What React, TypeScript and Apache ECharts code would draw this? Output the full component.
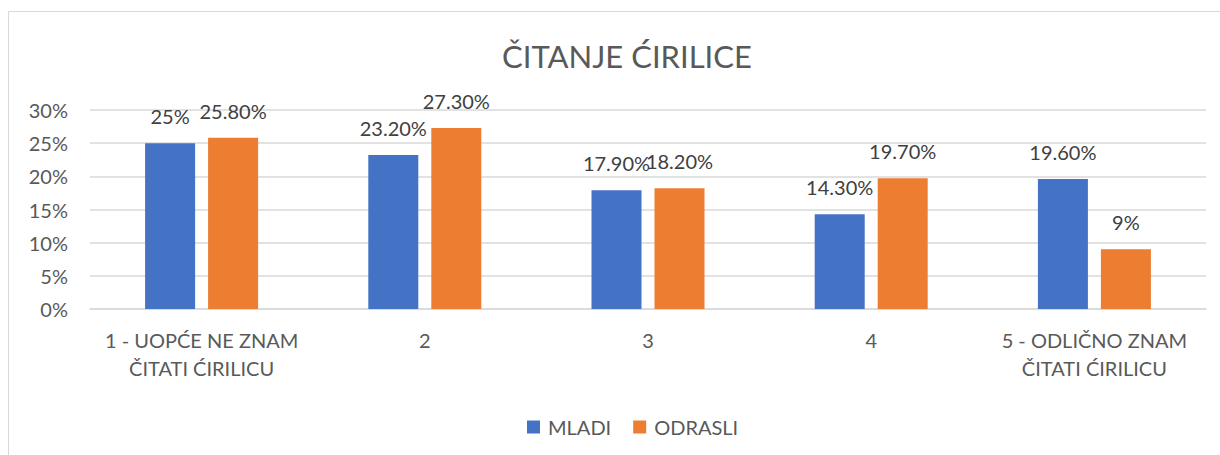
import React, { useEffect, useRef } from "react";
import * as echarts from "echarts";

const categories = [
  "1 - UOPĆE NE ZNAM\nČITATI ĆIRILICU",
  "2",
  "3",
  "4",
  "5 - ODLIČNO ZNAM\nČITATI ĆIRILICU",
];
const mladi = [25, 23.2, 17.9, 14.3, 19.6];
const odrasli = [25.8, 27.3, 18.2, 19.7, 9];
const seriesNames = ["MLADI", "ODRASLI"];
const titleText = "ČITANJE ĆIRILICE";

const FONT = "Lato, 'Open Sans', sans-serif";
const fmt = (v: number) => (Number.isInteger(v) ? `${v}%` : `${v.toFixed(2)}%`);

export default function App() {
  const ref = useRef<HTMLDivElement>(null);
  useEffect(() => {
    if (!ref.current) return;
    const chart = echarts.init(ref.current, undefined, { renderer: "svg" });
    const label = {
      show: true,
      position: "top" as const,
      distance: 17,
      color: "#404040",
      fontSize: 20,
      fontFamily: FONT,
      formatter: (p: any) => fmt(p.value),
    };
    chart.setOption({
      animation: false,
      backgroundColor: "#ffffff",
      textStyle: { fontFamily: FONT },
      title: {
        text: titleText,
        left: 622,
        textAlign: "center",
        top: 35,
        textStyle: { fontSize: 31, fontWeight: "normal", color: "#595959", fontFamily: FONT },
      },
      legend: {
        data: seriesNames,
        left: 522,
        top: 412,
        icon: "rect",
        itemWidth: 13,
        itemHeight: 13,
        itemGap: 22,
        textStyle: { fontSize: 20, color: "#595959", fontFamily: FONT, padding: [0, 0, 0, 3] },
      },
      graphic: [
        {
          type: "rect",
          shape: { x: 8.5, y: 11.5, width: 1400, height: 600 },
          style: { fill: "none", stroke: "#d9d9d9", lineWidth: 1 },
          silent: true,
        },
      ],
      grid: { left: 90, right: 14, top: 110, bottom: 146, containLabel: false },
      xAxis: {
        type: "category",
        data: categories,
        axisLine: { show: true, lineStyle: { color: "#d9d9d9", width: 1.5 } },
        axisTick: { show: false },
        axisLabel: {
          interval: 0,
          color: "#595959",
          fontSize: 20,
          fontFamily: FONT,
          lineHeight: 28,
          margin: 17,
        },
      },
      yAxis: {
        type: "value",
        min: 0,
        max: 30,
        interval: 5,
        axisLine: { show: false },
        axisTick: { show: false },
        splitLine: { lineStyle: { color: "#d9d9d9", width: 1.5 } },
        axisLabel: {
          color: "#595959",
          fontSize: 20,
          fontFamily: FONT,
          margin: 22,
          formatter: (v: number) => `${v}%`,
        },
      },
      series: [
        {
          name: seriesNames[0],
          type: "bar",
          data: mladi,
          barWidth: 50,
          barGap: "26%",
          itemStyle: { color: "#4472C4" },
          label,
        },
        {
          name: seriesNames[1],
          type: "bar",
          data: odrasli,
          barWidth: 50,
          itemStyle: { color: "#ED7D31" },
          label,
        },
      ],
    });
    return () => chart.dispose();
  }, []);
  return (
    <div
      ref={ref}
      style={{ position: "absolute", left: 0, top: 0, width: 1220, height: 455 }}
    />
  );
}
